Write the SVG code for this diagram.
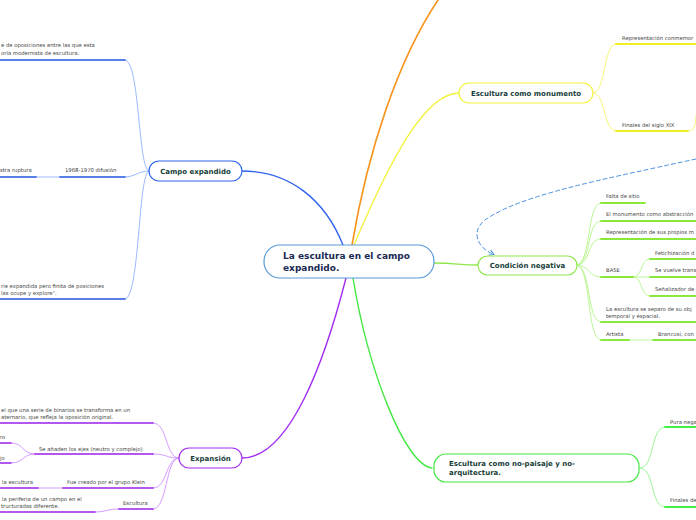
<svg xmlns="http://www.w3.org/2000/svg" width="696" height="520" viewBox="0 0 696 520">
<defs>
<style>
.nt{font-family:"DejaVu Sans",Verdana,sans-serif;font-weight:bold;font-size:7px;fill:#17403a}
.ct{font-family:"DejaVu Sans",Verdana,sans-serif;font-weight:bold;font-size:9px;fill:#1a2a55}
.st{font-family:"DejaVu Sans",Verdana,sans-serif;font-size:5.3px;fill:#444}
.c{fill:none;stroke-linecap:round}
.b1{stroke:#2f63ee;stroke-width:1.4}
.b2{stroke:#8fb0ff;stroke-width:0.9}
.bu{stroke:#2255dd;stroke-width:1.6}
.y1{stroke:#f2f23a;stroke-width:1.3}
.y2{stroke:#f5f56a;stroke-width:0.9}
.yu{stroke:#eeee22;stroke-width:1.8}
.g1{stroke:#8fe84a;stroke-width:1.3}
.g2{stroke:#b6f58a;stroke-width:0.9}
.gu{stroke:#88e83c;stroke-width:1.8}
.n1{stroke:#44e844;stroke-width:1.4}
.n2{stroke:#8ff58a;stroke-width:0.9}
.nu{stroke:#44ee44;stroke-width:1.8}
.p1{stroke:#a22ef0;stroke-width:1.4}
.p2{stroke:#cf90ff;stroke-width:0.9}
.pu{stroke:#9a20ea;stroke-width:1.6}
</style>
<marker id="ah" markerWidth="6" markerHeight="6" refX="4" refY="3" orient="auto" markerUnits="userSpaceOnUse">
<path d="M0,0 L5,3 L0,6" fill="none" stroke="#4a90e2" stroke-width="1"/>
</marker>
</defs>
<rect width="696" height="520" fill="#fff"/>
<g id="connectors">
<path class="c b1" d="M343,245 C325,200 290,171 242,171"/>
<path class="c" stroke="#f7941d" stroke-width="1.6" d="M352,245 C368,150 398,60 438,0"/>
<path class="c y1" d="M354,245 C390,160 425,93 459,93"/>
<path class="c g1" d="M434,263 C455,263 460,265 478,265"/>
<path class="c n1" d="M353,278 C368,370 405,465 432,468"/>
<path class="c p1" d="M346,278 C325,360 290,458 242,458"/>
<path class="c" stroke="#4a90e2" stroke-width="1" stroke-dasharray="4,3" marker-end="url(#ah)" d="M696,159 C600,180 520,195 485,220 C470,232 478,248 493,254"/>
<!-- Campo expandido -->
<path class="c b2" d="M149,171 C138,171 140,60 125,60"/>
<path class="c b2" d="M149,171 C138,171 135,177 125,177"/>
<path class="c b2" d="M149,171 C138,171 140,299 125,299"/>
<path class="c b2" d="M36,177 H60"/>
<path class="c bu" d="M0,60 H125 M60,177 H125 M0,177 H36 M0,299 H125"/>
<!-- Monumento -->
<path class="c y2" d="M593,93 C606,93 603,44 616,44"/>
<path class="c y2" d="M593,93 C606,93 603,131 616,131"/>
<path class="c y2" d="M688,131 C694,131 696,126 696,115"/>
<path class="c yu" d="M616,44 H696 M616,131 H688"/>
<!-- Condicion negativa -->
<path class="c g2" d="M576,265 C592,265 586,203 601,203"/>
<path class="c g2" d="M576,265 C592,265 586,221 601,221"/>
<path class="c g2" d="M576,265 C592,265 586,239 601,239"/>
<path class="c g2" d="M576,265 C590,265 588,277 601,277"/>
<path class="c g2" d="M576,265 C592,265 586,322 601,322"/>
<path class="c g2" d="M576,265 C592,265 586,340 601,340"/>
<path class="c g2" d="M633,277 C643,277 640,259 650,259"/>
<path class="c g2" d="M633,277 H650"/>
<path class="c g2" d="M633,277 C643,277 640,296 650,296"/>
<path class="c g2" d="M629,340 H653"/>
<path class="c gu" d="M601,203 H645 M601,221 H696 M601,239 H696 M601,277 H633 M650,259 H696 M650,277 H696 M650,296 H696 M601,322 H696 M601,340 H629 M653,340 H696"/>
<!-- No-paisaje -->
<path class="c n2" d="M640,468 C655,468 650,427 665,427"/>
<path class="c n2" d="M640,468 C655,468 650,507 665,507"/>
<path class="c nu" d="M665,427 H696 M665,507 H696"/>
<!-- Expansion -->
<path class="c p2" d="M179,458 C165,458 168,423 153,423"/>
<path class="c p2" d="M179,458 C165,458 168,454 153,454"/>
<path class="c p2" d="M179,458 C165,458 168,488 153,488"/>
<path class="c p2" d="M179,458 C165,458 168,509 153,509"/>
<path class="c p2" d="M35,454 C22,454 24,443 11,443"/>
<path class="c p2" d="M35,454 C22,454 24,463 11,463"/>
<path class="c p2" d="M38,488 H63"/>
<path class="c p2" d="M95,512 C105,512 108,509 119,509"/>
<path class="c pu" d="M0,423 H153 M35,454 H153 M0,443 H11 M0,463 H11 M0,488 H38 M63,488 H153 M0,512 H95 M119,509 H153"/>
</g>
<g id="center">
<rect x="264" y="245" width="170" height="33" rx="16" fill="#fff" stroke="#5a9ad8" stroke-width="1.2"/>
<text class="ct" x="283" y="259">La escultura en el campo</text>
<text class="ct" x="283" y="271">expandido.</text>
</g>
<g id="campo-expandido">
<rect x="149" y="161" width="93" height="20" rx="10" fill="#fff" stroke="#2f63ee" stroke-width="1.2"/>
<text class="nt" x="195.5" y="173.5" text-anchor="middle">Campo expandido</text>
<text class="st" x="1" y="47">e de oposiciones entre las que esta</text>
<text class="st" x="1" y="55">oría modernista de escultura.</text>
<text class="st" x="0" y="172">stra ruptura</text>
<text class="st" x="65" y="172">1968-1970 difusión</text>
<text class="st" x="1" y="288">rie expandida pero finita de posiciones</text>
<text class="st" x="1" y="295">las ocupe y explore".</text>
</g>
<g id="monumento">
<rect x="459" y="83" width="134" height="20" rx="10" fill="#fff" stroke="#f2f23a" stroke-width="1.2"/>
<text class="nt" x="526" y="95.5" text-anchor="middle">Escultura como monumento</text>
<text class="st" x="622" y="40">Representación conmemor</text>
<text class="st" x="622" y="127">Finales del siglo XIX</text>
</g>
<g id="condicion-negativa">
<rect x="478" y="256" width="99" height="19" rx="9.5" fill="#fff" stroke="#8fe84a" stroke-width="1.2"/>
<text class="nt" x="527.5" y="268" text-anchor="middle">Condición negativa</text>
<text class="st" x="606" y="198">Falta de sitio</text>
<text class="st" x="606" y="216">El monumento como abstracción</text>
<text class="st" x="606" y="234">Representación de sus propios m</text>
<text class="st" x="606" y="272">BASE</text>
<text class="st" x="655" y="255">Fetichización d</text>
<text class="st" x="655" y="272">Se vuelve trans</text>
<text class="st" x="655" y="291">Señalizador de</text>
<text class="st" x="606" y="311">La escultura se separo de su obj</text>
<text class="st" x="606" y="318">temporal y espacial.</text>
<text class="st" x="606" y="336">Artista</text>
<text class="st" x="658" y="336">Brancusi, con</text>
</g>
<g id="no-paisaje">
<rect x="434" y="454" width="205" height="28" rx="12" fill="#fff" stroke="#44e844" stroke-width="1.2"/>
<text class="nt" x="449" y="466">Escultura como no-paisaje y  no-</text>
<text class="nt" x="449" y="475">arquitectura.</text>
<text class="st" x="670" y="424">Pura nega</text>
<text class="st" x="670" y="502">Finales de</text>
</g>
<g id="expansion">
<rect x="179" y="448" width="63" height="20" rx="10" fill="#fff" stroke="#a22ef0" stroke-width="1.2"/>
<text class="nt" x="210.5" y="460.5" text-anchor="middle">Expansión</text>
<text class="st" x="1" y="412">el que una serie de binarios se transforma en un</text>
<text class="st" x="1" y="419">aternario, que refleja la oposición original.</text>
<text class="st" x="0" y="439">ro</text>
<text class="st" x="39" y="451">Se añaden los ejes (neutro y complejo)</text>
<text class="st" x="0" y="460">jo</text>
<text class="st" x="2" y="484">la escultura</text>
<text class="st" x="67" y="484">Fue creado por el grupo Klein</text>
<text class="st" x="2" y="501">la periferia de un campo en el</text>
<text class="st" x="1" y="508">tructuradas diferente.</text>
<text class="st" x="123" y="505">Escultura</text>
</g>
</svg>
